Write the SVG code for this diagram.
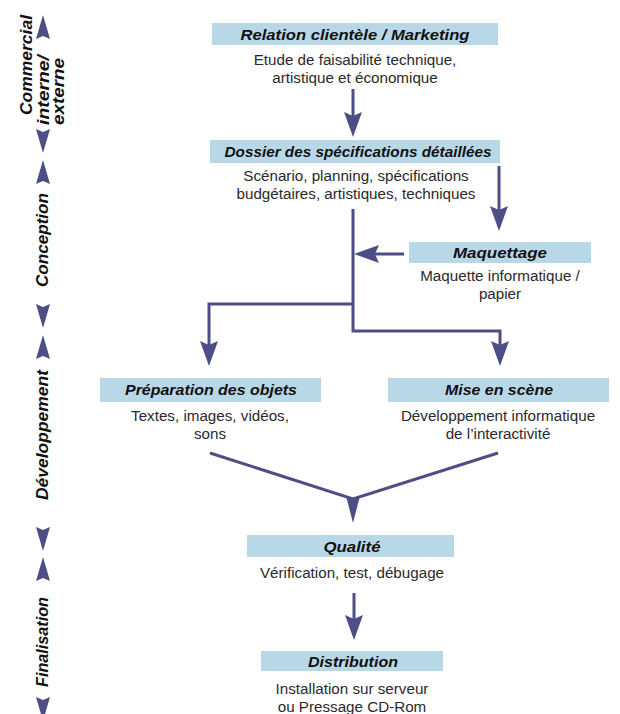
<svg xmlns="http://www.w3.org/2000/svg" width="620" height="714" viewBox="0 0 620 714">
<style>
.box{fill:#b9d8e7}
.title{font-family:"Liberation Sans",Arial,sans-serif;font-size:15.5px;font-weight:bold;font-style:italic;fill:#111;text-anchor:middle}
.sub{font-family:"Liberation Sans",Arial,sans-serif;font-size:15.2px;fill:#2a2a2a;text-anchor:middle}
.phase{font-family:"Liberation Sans",Arial,sans-serif;font-size:17px;font-weight:bold;font-style:italic;fill:#111}
.conn{fill:none;stroke:#4e4e86;stroke-width:3}
.head{fill:#4e4e86}
</style>
<defs>
<marker id="arr" markerUnits="userSpaceOnUse" markerWidth="26" markerHeight="20" viewBox="0 0 26 20" refX="12" refY="10" orient="auto">
<path d="M0,1 L25,10 L0,19 L4,10 Z" fill="#4e4e86"/>
</marker>
<path id="pu" d="M0,-12 L7,12 L0,9 L-7,12 Z" fill="#4e4e86"/>
<path id="pd" d="M0,12 L7,-12 L0,-9 L-7,-12 Z" fill="#4e4e86"/>
</defs>

<g id="phases">
<use href="#pu" x="43" y="27"/>
<text class="phase" transform="translate(32,115) rotate(-90)" textLength="100" lengthAdjust="spacingAndGlyphs">Commercial</text>
<text class="phase" transform="translate(49,125) rotate(-90)" textLength="70" lengthAdjust="spacingAndGlyphs">interne/</text>
<text class="phase" transform="translate(64,125) rotate(-90)" textLength="67" lengthAdjust="spacingAndGlyphs">externe</text>
<use href="#pd" x="43" y="141"/>
<use href="#pu" x="43" y="172"/>
<text class="phase" text-anchor="middle" transform="translate(48,240) rotate(-90)" textLength="94" lengthAdjust="spacingAndGlyphs">Conception</text>
<use href="#pd" x="43" y="316"/>
<use href="#pu" x="43" y="347"/>
<text class="phase" text-anchor="middle" transform="translate(48,435) rotate(-90)" textLength="130" lengthAdjust="spacingAndGlyphs">Développement</text>
<use href="#pd" x="43" y="539"/>
<use href="#pu" x="43" y="569"/>
<text class="phase" text-anchor="middle" transform="translate(48,642) rotate(-90)" textLength="90" lengthAdjust="spacingAndGlyphs">Finalisation</text>
<use href="#pd" x="43" y="709"/>
</g>

<g id="n-relation">
<rect class="box" x="212" y="23" width="286" height="22"/>
<text class="title" x="355" y="40" textLength="229" lengthAdjust="spacingAndGlyphs">Relation clientèle / Marketing</text>
<text class="sub" x="355" y="65">Etude de faisabilité technique,</text>
<text class="sub" x="355" y="83">artistique et économique</text>
</g>

<g id="n-dossier">
<rect class="box" x="210" y="140" width="290" height="23"/>
<text class="title" x="358" y="157" textLength="267" lengthAdjust="spacingAndGlyphs">Dossier des spécifications détaillées</text>
<text class="sub" x="356" y="181">Scénario, planning, spécifications</text>
<text class="sub" x="356" y="199">budgétaires, artistiques, techniques</text>
</g>

<g id="n-maquettage">
<rect class="box" x="409" y="242" width="182" height="21"/>
<text class="title" x="500" y="258" textLength="94" lengthAdjust="spacingAndGlyphs">Maquettage</text>
<text class="sub" x="500" y="281">Maquette informatique /</text>
<text class="sub" x="500" y="299">papier</text>
</g>

<g id="n-preparation">
<rect class="box" x="100" y="378" width="221" height="24"/>
<text class="title" x="211" y="395" textLength="172" lengthAdjust="spacingAndGlyphs">Préparation des objets</text>
<text class="sub" x="210" y="421">Textes, images, vidéos,</text>
<text class="sub" x="210" y="439">sons</text>
</g>

<g id="n-mise">
<rect class="box" x="388" y="378" width="221" height="24"/>
<text class="title" x="499" y="395" textLength="108" lengthAdjust="spacingAndGlyphs">Mise en scène</text>
<text class="sub" x="498" y="421">Développement informatique</text>
<text class="sub" x="498" y="439">de l’interactivité</text>
</g>

<g id="n-qualite">
<rect class="box" x="247" y="535" width="207" height="22"/>
<text class="title" x="352" y="552" textLength="57" lengthAdjust="spacingAndGlyphs">Qualité</text>
<text class="sub" x="352" y="578">Vérification, test, débugage</text>
</g>

<g id="n-distribution">
<rect class="box" x="261" y="651" width="182" height="20"/>
<text class="title" x="353" y="667" textLength="90" lengthAdjust="spacingAndGlyphs">Distribution</text>
<text class="sub" x="352" y="694">Installation sur serveur</text>
<text class="sub" x="352" y="712">ou Pressage CD-Rom</text>
</g>

<g id="connectors">
<path class="conn" d="M353,89 V124" marker-end="url(#arr)"/>
<path class="conn" d="M499,166 V218" marker-end="url(#arr)"/>
<path class="conn" d="M404,254 H367" marker-end="url(#arr)"/>
<path class="conn" d="M353,209 V331 H500 V353" marker-end="url(#arr)"/>
<path class="conn" d="M353,304 H209 V353" marker-end="url(#arr)"/>
<path class="conn" d="M210,453 L353,499 L498,453"/>
<path class="head" d="M346,496 L353,499 L360,496 L353,523 Z"/>
<path class="conn" d="M354,593 V627" marker-end="url(#arr)"/>
</g>
</svg>
